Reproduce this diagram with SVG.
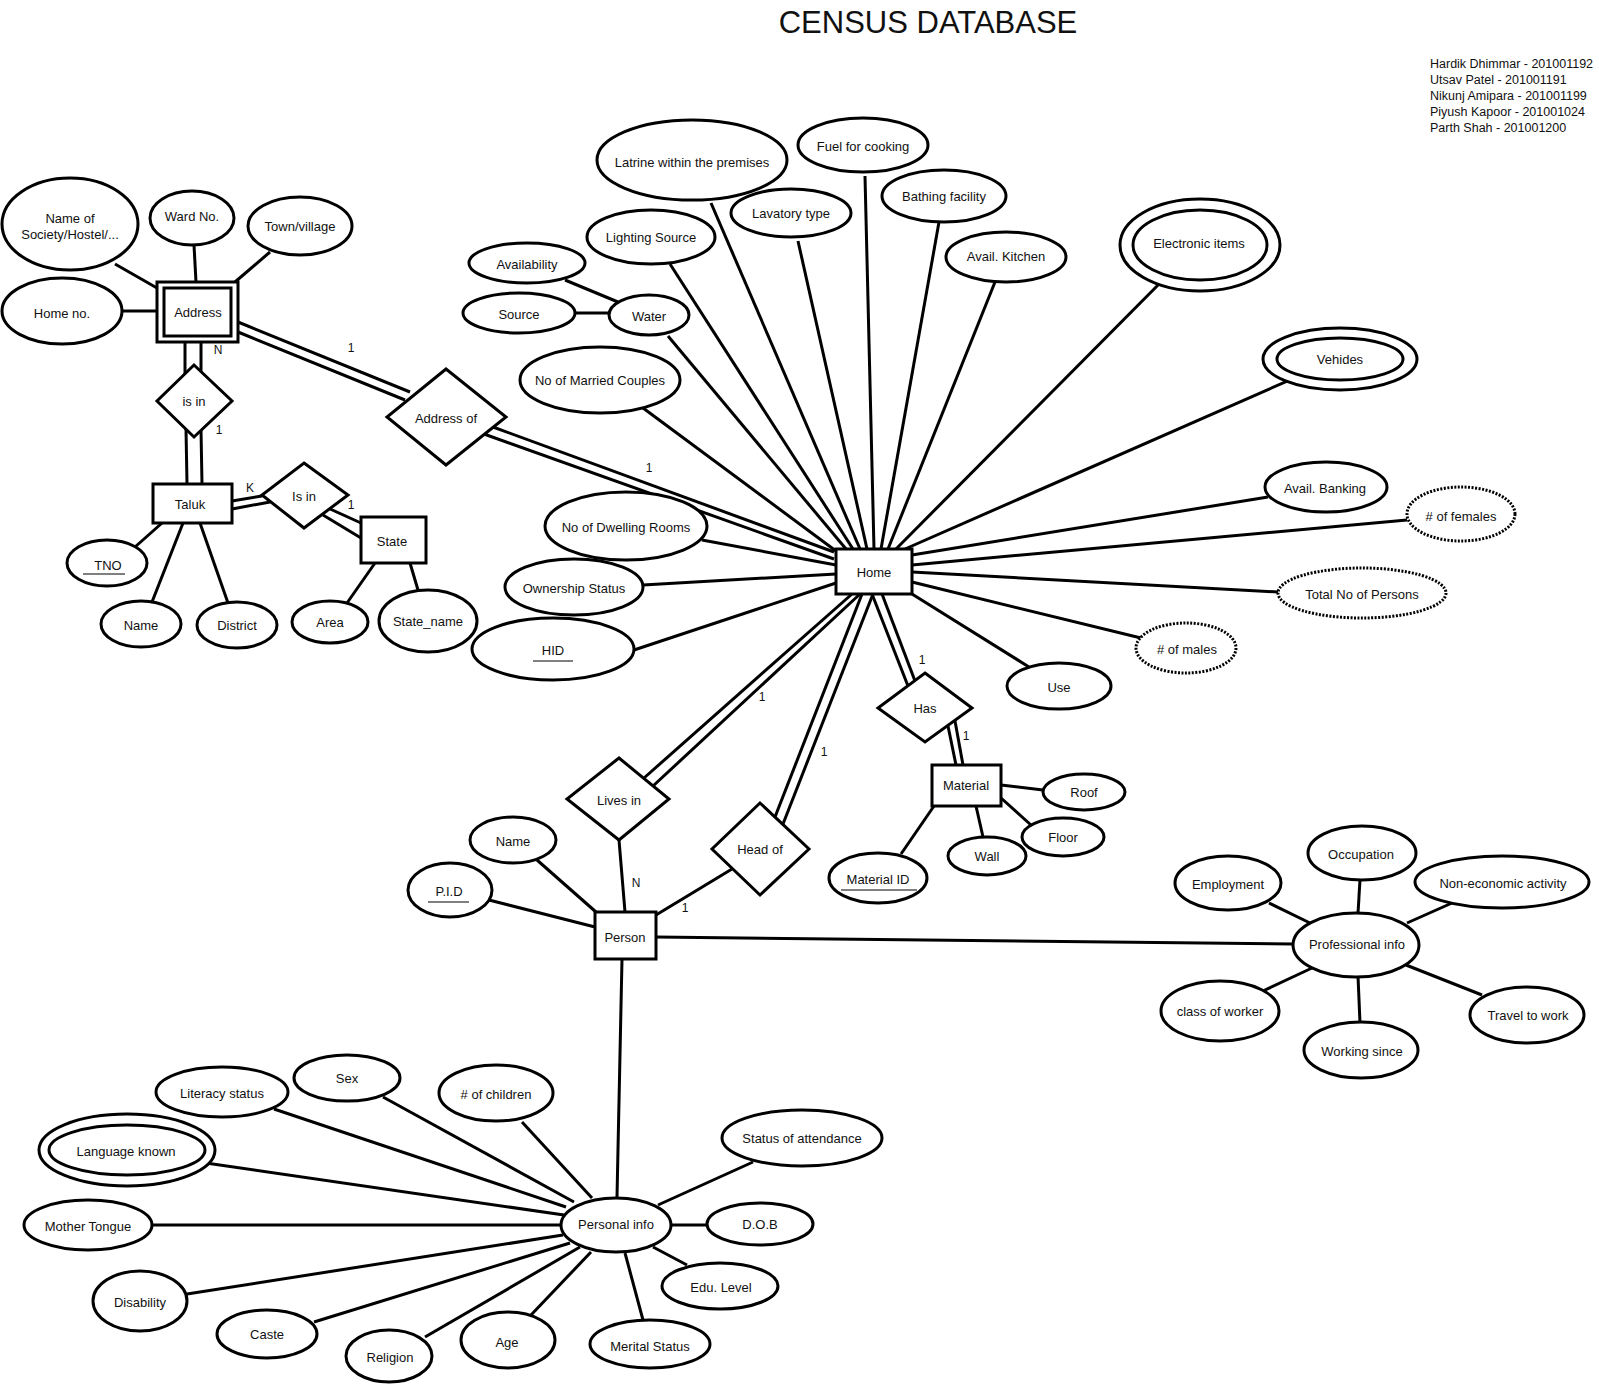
<svg xmlns="http://www.w3.org/2000/svg" width="1599" height="1387" viewBox="0 0 1599 1387">
<style>
.e{fill:#fff;stroke:#000;stroke-width:3}
.d{fill:#fff;stroke:#000;stroke-width:3;stroke-dasharray:2 1.5}
.b{fill:#fff;stroke:#000;stroke-width:3}
.u{stroke:#000;stroke-width:1}
#connectors line{stroke:#000;stroke-width:3}
text{font-family:"Liberation Sans",Arial,sans-serif;font-size:13px;fill:#111;text-anchor:middle;dominant-baseline:central}
.card{font-size:12px}
</style>
<rect width="1599" height="1387" fill="#fff"/>
<text x="928" y="22" style="font-size:31px">CENSUS DATABASE</text>
<g id="authors" style="font-size:12.5px">
<text x="1430" y="64" style="text-anchor:start;font-size:12.5px">Hardik Dhimmar - 201001192</text>
<text x="1430" y="80" style="text-anchor:start;font-size:12.5px">Utsav Patel - 201001191</text>
<text x="1430" y="96" style="text-anchor:start;font-size:12.5px">Nikunj Amipara - 201001199</text>
<text x="1430" y="112" style="text-anchor:start;font-size:12.5px">Piyush Kapoor - 201001024</text>
<text x="1430" y="128" style="text-anchor:start;font-size:12.5px">Parth Shah - 201001200</text>
</g>
<g id="connectors">
<line x1="115" y1="264" x2="157" y2="288"/>
<line x1="194" y1="245" x2="196" y2="282"/>
<line x1="270" y1="252" x2="235" y2="282"/>
<line x1="123" y1="311" x2="157" y2="311"/>
<line x1="238" y1="322" x2="410" y2="392"/>
<line x1="238" y1="332" x2="405" y2="400"/>
<line x1="185" y1="342" x2="185" y2="374"/>
<line x1="201" y1="342" x2="201" y2="372"/>
<line x1="186" y1="429" x2="187" y2="484"/>
<line x1="201" y1="430" x2="202" y2="484"/>
<line x1="232" y1="501" x2="262" y2="496"/>
<line x1="232" y1="509" x2="270" y2="502"/>
<line x1="330" y1="509" x2="361" y2="523"/>
<line x1="323" y1="515" x2="361" y2="538"/>
<line x1="135" y1="547" x2="162" y2="523"/>
<line x1="152" y1="602" x2="183" y2="523"/>
<line x1="228" y1="603" x2="200" y2="523"/>
<line x1="347" y1="603" x2="375" y2="563"/>
<line x1="410" y1="563" x2="418" y2="590"/>
<line x1="493" y1="427" x2="834" y2="552"/>
<line x1="484" y1="434" x2="834" y2="559"/>
<line x1="643" y1="408" x2="836" y2="551"/>
<line x1="668" y1="336" x2="846" y2="549"/>
<line x1="670" y1="264" x2="853" y2="549"/>
<line x1="711" y1="203" x2="860" y2="549"/>
<line x1="798" y1="241" x2="867" y2="549"/>
<line x1="865" y1="176" x2="874" y2="549"/>
<line x1="939" y1="222" x2="881" y2="549"/>
<line x1="995" y1="282" x2="888" y2="549"/>
<line x1="1168" y1="275" x2="896" y2="549"/>
<line x1="1299" y1="376" x2="905" y2="549"/>
<line x1="1268" y1="497" x2="912" y2="555"/>
<line x1="1407" y1="520" x2="912" y2="565"/>
<line x1="1278" y1="592" x2="912" y2="572"/>
<line x1="1141" y1="638" x2="912" y2="582"/>
<line x1="1029" y1="667" x2="912" y2="594"/>
<line x1="702" y1="540" x2="836" y2="565"/>
<line x1="643" y1="585" x2="836" y2="574"/>
<line x1="634" y1="650" x2="836" y2="583"/>
<line x1="565" y1="280" x2="618" y2="302"/>
<line x1="575" y1="313" x2="609" y2="313"/>
<line x1="852" y1="594" x2="644" y2="778"/>
<line x1="860" y1="594" x2="653" y2="786"/>
<line x1="862" y1="594" x2="775" y2="817"/>
<line x1="873" y1="594" x2="783" y2="824"/>
<line x1="872" y1="594" x2="908" y2="686"/>
<line x1="882" y1="594" x2="915" y2="681"/>
<line x1="948" y1="726" x2="956" y2="765"/>
<line x1="955" y1="721" x2="963" y2="765"/>
<line x1="1001" y1="785" x2="1043" y2="790"/>
<line x1="1001" y1="798" x2="1031" y2="825"/>
<line x1="976" y1="806" x2="983" y2="837"/>
<line x1="901" y1="854" x2="934" y2="806"/>
<line x1="619" y1="840" x2="625" y2="912"/>
<line x1="732" y1="869" x2="656" y2="915"/>
<line x1="537" y1="860" x2="596" y2="912"/>
<line x1="489" y1="900" x2="595" y2="927"/>
<line x1="656" y1="937" x2="1293" y2="944"/>
<line x1="622" y1="959" x2="617" y2="1197"/>
<line x1="1360" y1="880" x2="1358" y2="913"/>
<line x1="1269" y1="903" x2="1310" y2="923"/>
<line x1="1452" y1="903" x2="1407" y2="923"/>
<line x1="1263" y1="991" x2="1312" y2="968"/>
<line x1="1360" y1="1023" x2="1358" y2="976"/>
<line x1="1482" y1="995" x2="1406" y2="965"/>
<line x1="274" y1="1109" x2="566" y2="1207"/>
<line x1="383" y1="1097" x2="574" y2="1202"/>
<line x1="522" y1="1122" x2="592" y2="1198"/>
<line x1="199" y1="1162" x2="564" y2="1215"/>
<line x1="152" y1="1225" x2="562" y2="1225"/>
<line x1="187" y1="1294" x2="563" y2="1235"/>
<line x1="314" y1="1322" x2="570" y2="1243"/>
<line x1="425" y1="1337" x2="580" y2="1247"/>
<line x1="531" y1="1315" x2="591" y2="1252"/>
<line x1="753" y1="1162" x2="658" y2="1205"/>
<line x1="671" y1="1225" x2="707" y2="1225"/>
<line x1="687" y1="1265" x2="653" y2="1247"/>
<line x1="643" y1="1320" x2="625" y2="1253"/>
</g>
<g id="cardinalities">
<text class="card" x="351" y="348">1</text>
<text class="card" x="218" y="350">N</text>
<text class="card" x="219" y="430">1</text>
<text class="card" x="250" y="488">K</text>
<text class="card" x="351" y="505">1</text>
<text class="card" x="649" y="468">1</text>
<text class="card" x="762" y="697">1</text>
<text class="card" x="824" y="752">1</text>
<text class="card" x="636" y="883">N</text>
<text class="card" x="685" y="908">1</text>
<text class="card" x="922" y="660">1</text>
<text class="card" x="966" y="736">1</text>
</g>
<g id="name-of-society"><ellipse class="e" cx="70" cy="224" rx="68" ry="46"/><text x="70" y="218">Name of</text><text x="70" y="234">Society/Hostel/...</text></g>
<g id="ward-no"><ellipse class="e" cx="192" cy="218" rx="42" ry="27"/><text x="192" y="216">Ward No.</text></g>
<g id="town-village"><ellipse class="e" cx="300" cy="226" rx="52" ry="29"/><text x="300" y="226">Town/village</text></g>
<g id="home-no"><ellipse class="e" cx="62" cy="311" rx="60" ry="33"/><text x="62" y="313">Home no.</text></g>
<g id="address"><rect class="b" x="157" y="282" width="81" height="60"/><rect class="b" x="164" y="288" width="67" height="48"/><text x="198" y="312">Address</text></g>
<g id="is-in-1"><polygon class="b" points="194,365 232,401 194,437 157,401"/><text x="194" y="401">is in</text></g>
<g id="taluk"><rect class="b" x="153" y="484" width="79" height="39"/><text x="190" y="504">Taluk</text></g>
<g id="is-in-2"><polygon class="b" points="304,463 348,495 304,528 262,495"/><text x="304" y="496">Is in</text></g>
<g id="state"><rect class="b" x="361" y="517" width="65" height="46"/><text x="392" y="541">State</text></g>
<g id="tno"><ellipse class="e" cx="107" cy="563" rx="40" ry="23"/><text x="108" y="565">TNO</text><line class="u" x1="83" y1="574" x2="125" y2="574"/></g>
<g id="taluk-name"><ellipse class="e" cx="141" cy="624" rx="40" ry="23"/><text x="141" y="625">Name</text></g>
<g id="district"><ellipse class="e" cx="237" cy="625" rx="40" ry="23"/><text x="237" y="625">District</text></g>
<g id="area"><ellipse class="e" cx="330" cy="622" rx="38" ry="21"/><text x="330" y="622">Area</text></g>
<g id="state-name"><ellipse class="e" cx="428" cy="621" rx="49" ry="31"/><text x="428" y="621">State_name</text></g>
<g id="latrine"><ellipse class="e" cx="692" cy="160" rx="95" ry="40"/><text x="692" y="162">Latrine within the premises</text></g>
<g id="fuel"><ellipse class="e" cx="863" cy="145" rx="65" ry="27"/><text x="863" y="146">Fuel for cooking</text></g>
<g id="lavatory"><ellipse class="e" cx="791" cy="213" rx="60" ry="24"/><text x="791" y="213">Lavatory type</text></g>
<g id="lighting"><ellipse class="e" cx="651" cy="237" rx="64" ry="27"/><text x="651" y="237">Lighting Source</text></g>
<g id="availability"><ellipse class="e" cx="527" cy="263" rx="58" ry="20"/><text x="527" y="264">Availability</text></g>
<g id="source"><ellipse class="e" cx="519" cy="313" rx="56" ry="20"/><text x="519" y="314">Source</text></g>
<g id="water"><ellipse class="e" cx="649" cy="315" rx="40" ry="20"/><text x="649" y="316">Water</text></g>
<g id="married"><ellipse class="e" cx="600" cy="380" rx="80" ry="33"/><text x="600" y="380">No of Married Couples</text></g>
<g id="bathing"><ellipse class="e" cx="944" cy="196" rx="62" ry="26"/><text x="944" y="196">Bathing facility</text></g>
<g id="kitchen"><ellipse class="e" cx="1006" cy="257" rx="60" ry="25"/><text x="1006" y="256">Avail. Kitchen</text></g>
<g id="electronic"><ellipse class="e" cx="1200" cy="245" rx="80" ry="46"/><ellipse class="e" cx="1200" cy="245" rx="67" ry="35"/><text x="1199" y="243">Electronic items</text></g>
<g id="vehides"><ellipse class="e" cx="1340" cy="359" rx="77" ry="31"/><ellipse class="e" cx="1340" cy="359" rx="63" ry="21"/><text x="1340" y="359">Vehides</text></g>
<g id="address-of"><polygon class="b" points="446,369 506,417 446,465 387,417"/><text x="446" y="418">Address of</text></g>
<g id="dwelling"><ellipse class="e" cx="626" cy="526" rx="81" ry="34"/><text x="626" y="527">No of Dwelling Rooms</text></g>
<g id="ownership"><ellipse class="e" cx="574" cy="587" rx="69" ry="28"/><text x="574" y="588">Ownership Status</text></g>
<g id="hid"><ellipse class="e" cx="553" cy="649" rx="81" ry="31"/><text x="553" y="650">HID</text><line class="u" x1="533" y1="661" x2="573" y2="661"/></g>
<g id="home"><rect class="b" x="836" y="549" width="76" height="45"/><text x="874" y="572">Home</text></g>
<g id="banking"><ellipse class="e" cx="1326" cy="487" rx="61" ry="25"/><text x="1325" y="488">Avail. Banking</text></g>
<g id="females"><ellipse class="d" cx="1461" cy="514" rx="54" ry="27"/><text x="1461" y="516"># of females</text></g>
<g id="total"><ellipse class="d" cx="1362" cy="593" rx="84" ry="25"/><text x="1362" y="594">Total No of Persons</text></g>
<g id="males"><ellipse class="d" cx="1186" cy="648" rx="50" ry="25"/><text x="1187" y="649"># of males</text></g>
<g id="use"><ellipse class="e" cx="1059" cy="686" rx="52" ry="23"/><text x="1059" y="687">Use</text></g>
<g id="has"><polygon class="b" points="925,673 972,708 925,742 878,708"/><text x="925" y="708">Has</text></g>
<g id="material"><rect class="b" x="932" y="765" width="69" height="41"/><text x="966" y="785">Material</text></g>
<g id="roof"><ellipse class="e" cx="1084" cy="792" rx="41" ry="18"/><text x="1084" y="792">Roof</text></g>
<g id="floor"><ellipse class="e" cx="1063" cy="837" rx="41" ry="19"/><text x="1063" y="837">Floor</text></g>
<g id="wall"><ellipse class="e" cx="987" cy="856" rx="39" ry="19"/><text x="987" y="856">Wall</text></g>
<g id="material-id"><ellipse class="e" cx="878" cy="878" rx="49" ry="25"/><text x="878" y="879">Material ID</text><line class="u" x1="841" y1="890" x2="917" y2="890"/></g>
<g id="lives-in"><polygon class="b" points="619,758 669,799 619,840 567,799"/><text x="619" y="800">Lives in</text></g>
<g id="head-of"><polygon class="b" points="760,803 809,849 760,895 712,849"/><text x="760" y="849">Head of</text></g>
<g id="person"><rect class="b" x="595" y="912" width="61" height="47"/><text x="625" y="937">Person</text></g>
<g id="person-name"><ellipse class="e" cx="513" cy="840" rx="43" ry="23"/><text x="513" y="841">Name</text></g>
<g id="pid"><ellipse class="e" cx="450" cy="890" rx="42" ry="27"/><text x="449" y="891">P.I.D</text><line class="u" x1="428" y1="902" x2="469" y2="902"/></g>
<g id="occupation"><ellipse class="e" cx="1362" cy="853" rx="54" ry="27"/><text x="1361" y="854">Occupation</text></g>
<g id="employment"><ellipse class="e" cx="1228" cy="883" rx="53" ry="27"/><text x="1228" y="884">Employment</text></g>
<g id="non-economic"><ellipse class="e" cx="1502" cy="882" rx="87" ry="26"/><text x="1503" y="883">Non-economic activity</text></g>
<g id="professional"><ellipse class="e" cx="1356" cy="945" rx="63" ry="32"/><text x="1357" y="944">Professional info</text></g>
<g id="class-worker"><ellipse class="e" cx="1220" cy="1011" rx="59" ry="30"/><text x="1220" y="1011">class of worker</text></g>
<g id="working-since"><ellipse class="e" cx="1361" cy="1050" rx="57" ry="28"/><text x="1362" y="1051">Working since</text></g>
<g id="travel"><ellipse class="e" cx="1527" cy="1015" rx="57" ry="28"/><text x="1528" y="1015">Travel to work</text></g>
<g id="literacy"><ellipse class="e" cx="222" cy="1092" rx="66" ry="25"/><text x="222" y="1093">Literacy status</text></g>
<g id="sex"><ellipse class="e" cx="347" cy="1078" rx="53" ry="23"/><text x="347" y="1078">Sex</text></g>
<g id="children"><ellipse class="e" cx="496" cy="1093" rx="57" ry="28"/><text x="496" y="1094"># of children</text></g>
<g id="language"><ellipse class="e" cx="127" cy="1150" rx="88" ry="36"/><ellipse class="e" cx="127" cy="1150" rx="78" ry="25"/><text x="126" y="1151">Language known</text></g>
<g id="mother-tongue"><ellipse class="e" cx="88" cy="1225" rx="64" ry="25"/><text x="88" y="1226">Mother Tongue</text></g>
<g id="disability"><ellipse class="e" cx="140" cy="1301" rx="47" ry="30"/><text x="140" y="1302">Disability</text></g>
<g id="caste"><ellipse class="e" cx="267" cy="1334" rx="50" ry="24"/><text x="267" y="1334">Caste</text></g>
<g id="religion"><ellipse class="e" cx="389" cy="1356" rx="43" ry="26"/><text x="390" y="1357">Religion</text></g>
<g id="age"><ellipse class="e" cx="508" cy="1340" rx="47" ry="28"/><text x="507" y="1342">Age</text></g>
<g id="personal"><ellipse class="e" cx="616" cy="1225" rx="55" ry="27"/><text x="616" y="1224">Personal info</text></g>
<g id="attendance"><ellipse class="e" cx="802" cy="1138" rx="80" ry="28"/><text x="802" y="1138">Status of attendance</text></g>
<g id="dob"><ellipse class="e" cx="760" cy="1224" rx="53" ry="21"/><text x="760" y="1224">D.O.B</text></g>
<g id="edu"><ellipse class="e" cx="720" cy="1286" rx="58" ry="23"/><text x="721" y="1287">Edu. Level</text></g>
<g id="merital"><ellipse class="e" cx="650" cy="1344" rx="60" ry="24"/><text x="650" y="1346">Merital Status</text></g>
</svg>
